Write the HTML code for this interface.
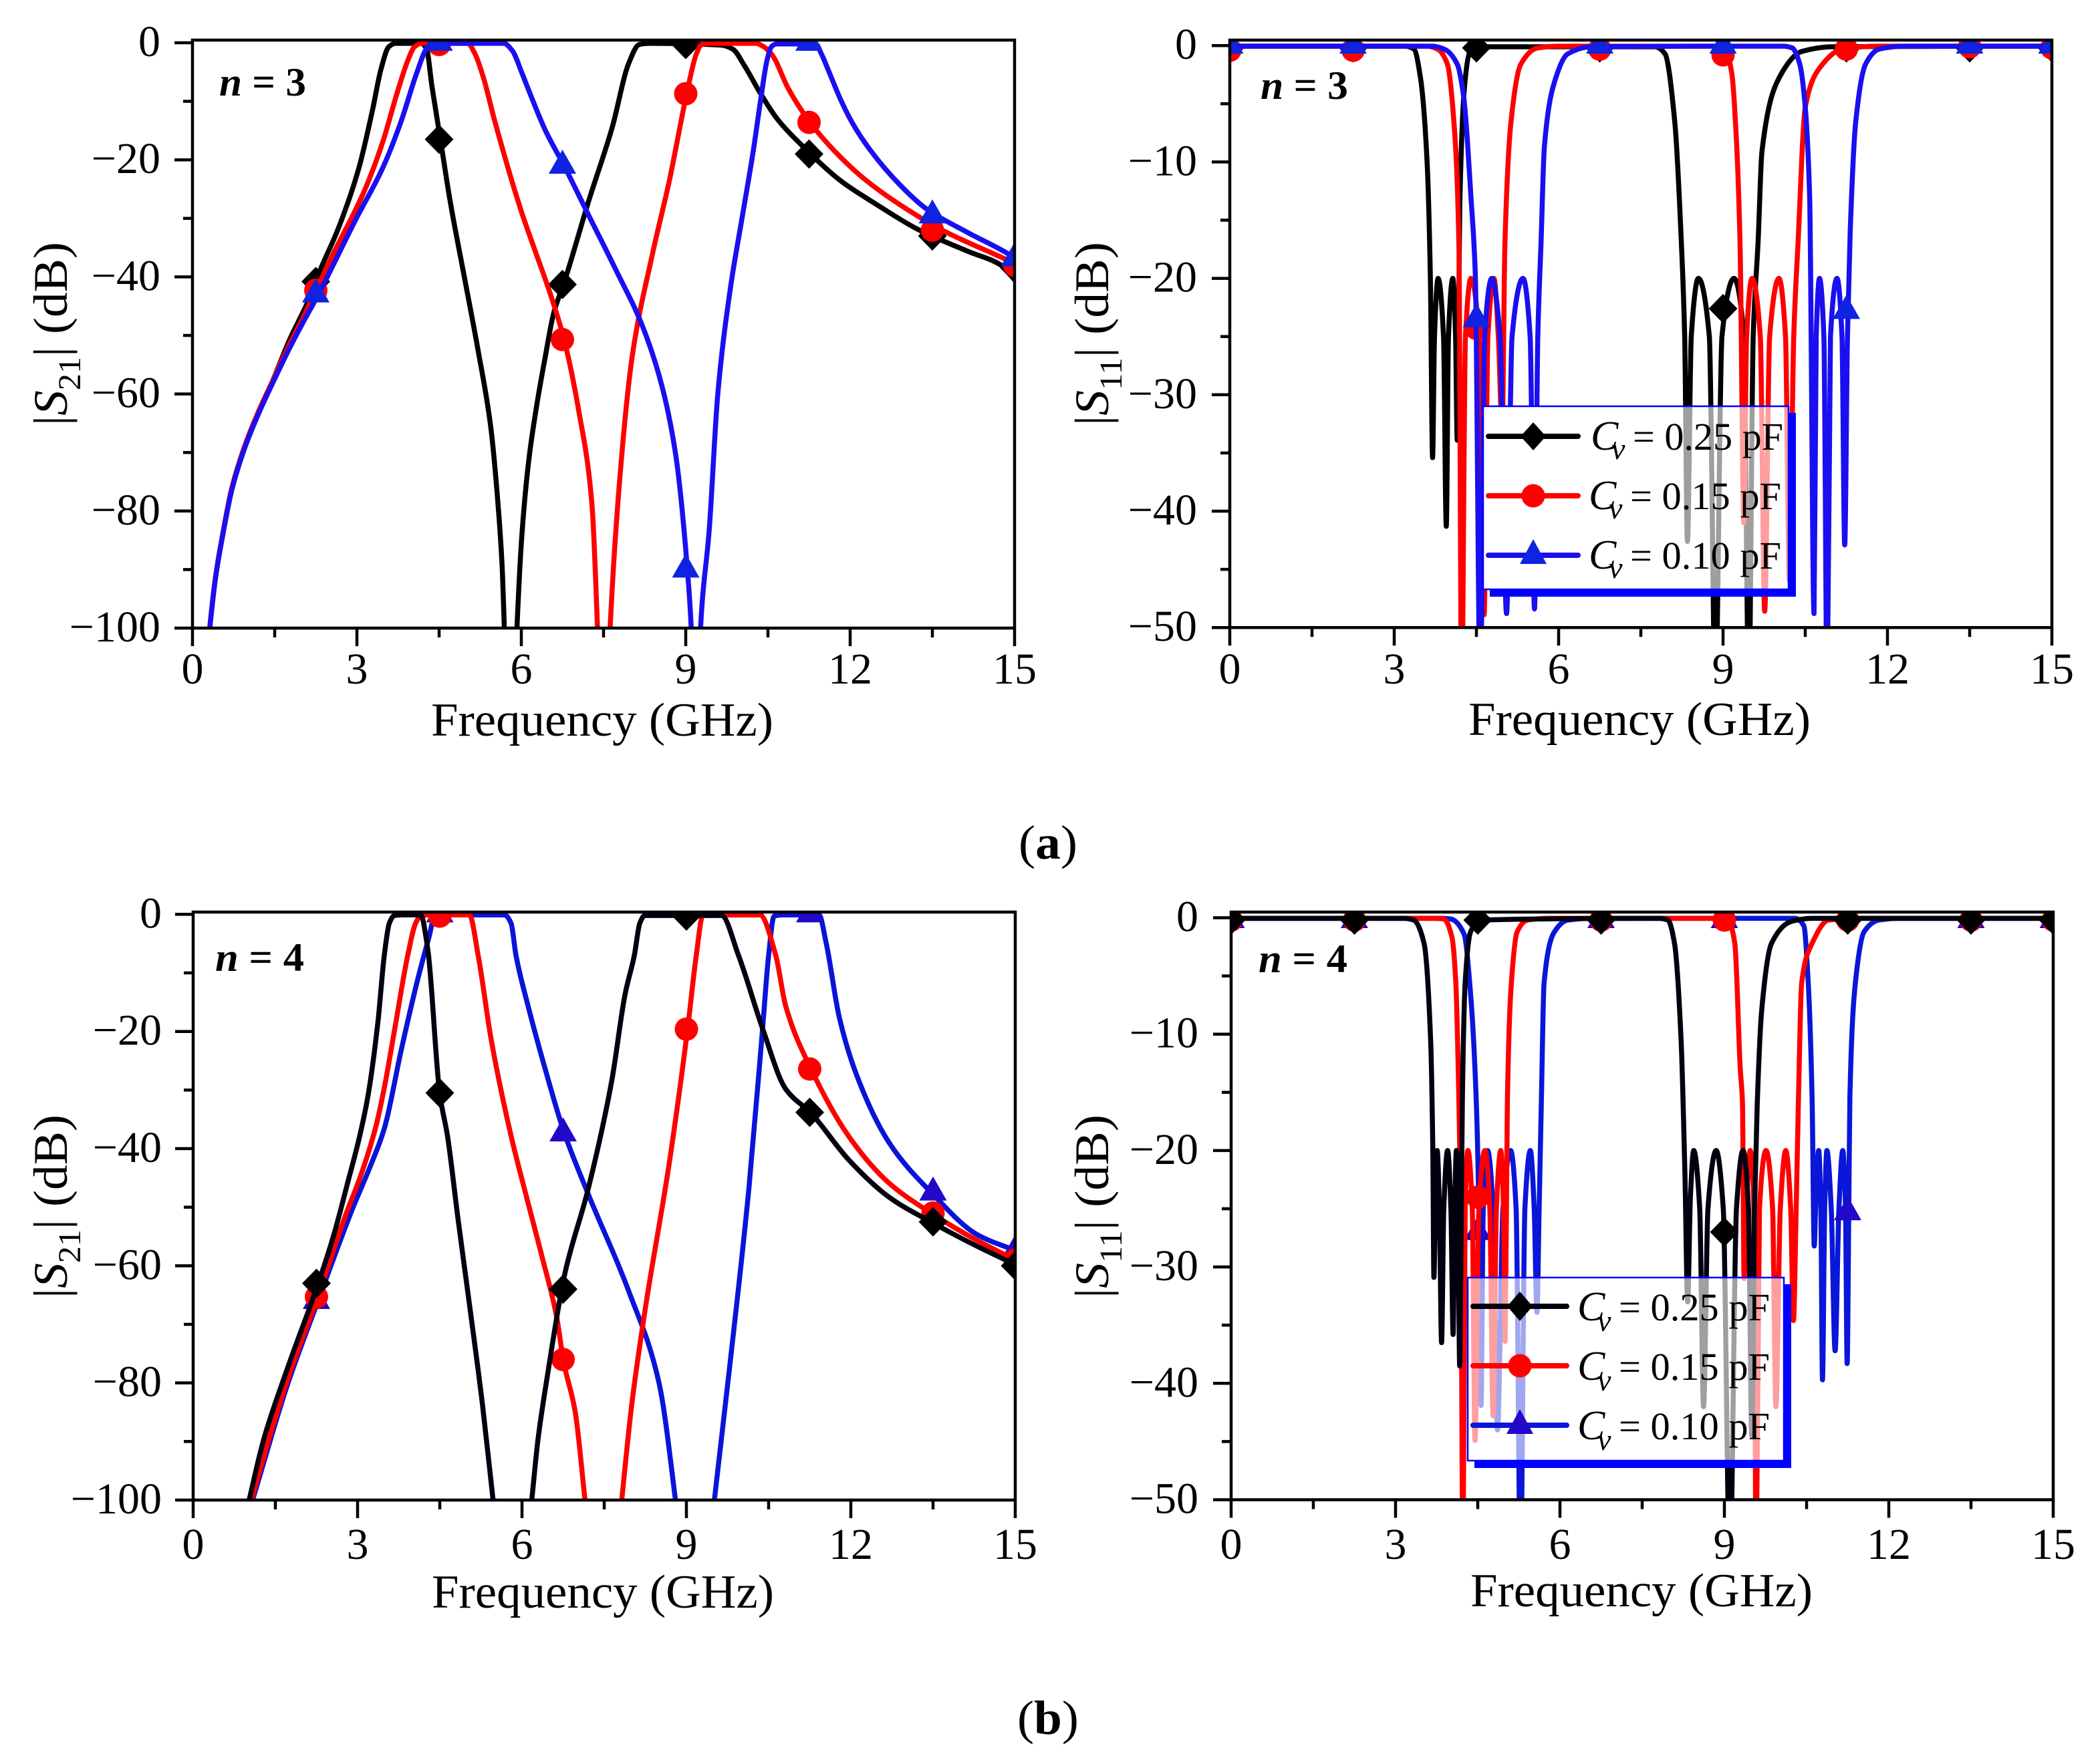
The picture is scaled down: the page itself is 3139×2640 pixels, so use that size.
<!DOCTYPE html>
<html lang="en">
<head>
<meta charset="utf-8">
<title>S-parameter responses for n = 3 and n = 4</title>
<style>
html,body{margin:0;padding:0;background:#fff;}
svg{display:block;}
text{font-family:"Liberation Serif","DejaVu Serif",serif;fill:#000;}
</style>
</head>
<body>
<svg id="figure" xmlns="http://www.w3.org/2000/svg" width="3139" height="2640" viewBox="0 0 3139 2640">
<rect x="0" y="0" width="3139" height="2640" fill="#fff"/>
<defs>
<clipPath id="clip-tl"><rect x="288" y="60" width="1230" height="880"/></clipPath>
<clipPath id="clip-tr"><rect x="1840" y="60" width="1230" height="880"/></clipPath>
<clipPath id="clip-bl"><rect x="289" y="1365" width="1230" height="880"/></clipPath>
<clipPath id="clip-br"><rect x="1842" y="1365" width="1230" height="880"/></clipPath>
</defs>

<g id="panel-tl">
  <g id="marks-tl" clip-path="url(#clip-tl)"></g>
  <g id="axes-tl"></g>
  <text x="328" y="143" font-size="60" font-weight="bold" textLength="130" lengthAdjust="spacingAndGlyphs"><tspan font-style="italic">n</tspan> = 3</text>
  <text x="645" y="1101" font-size="71" textLength="512" lengthAdjust="spacingAndGlyphs">Frequency (GHz)</text>
  <text transform="translate(100,637) rotate(-90)" font-size="72" textLength="275" lengthAdjust="spacingAndGlyphs">|<tspan font-style="italic">S</tspan><tspan font-size="48" dy="20">21</tspan><tspan dy="-20">| (dB)</tspan></text>
</g>

<g id="panel-tr">
  <g id="marks-tr" clip-path="url(#clip-tr)"></g>
  <g id="axes-tr"></g>
  <text x="1886" y="148" font-size="60" font-weight="bold" textLength="131" lengthAdjust="spacingAndGlyphs"><tspan font-style="italic">n</tspan> = 3</text>
  <text x="2197" y="1100" font-size="71" textLength="512" lengthAdjust="spacingAndGlyphs">Frequency (GHz)</text>
  <text transform="translate(1658,637) rotate(-90)" font-size="72" textLength="275" lengthAdjust="spacingAndGlyphs">|<tspan font-style="italic">S</tspan><tspan font-size="48" dy="20">11</tspan><tspan dy="-20">| (dB)</tspan></text>
  <g>
    <rect x="2676" y="618" width="11" height="275" fill="#0000ff"/>
    <rect x="2229" y="881" width="458" height="12" fill="#0000ff"/>
    <rect x="2219" y="608" width="216" height="274" fill="#fff"/>
    <rect x="2435" y="608" width="241" height="274" fill="#fff" fill-opacity="0.62"/>
    <rect x="2219" y="608" width="457" height="274" fill="none" stroke="#0000ff" stroke-width="2.5"/>
    <g>
      <line x1="2227" y1="653" x2="2361" y2="653" stroke="#000" stroke-width="8" stroke-linecap="round"/>
      <polygon points="2294,632 2313,653 2294,674 2275,653" fill="#000"/>
      <text x="2380" y="673" font-size="62" font-style="italic">C</text>
      <text x="2411" y="687" font-size="46" font-style="italic">v</text>
      <text x="2443" y="673" font-size="58" textLength="225" lengthAdjust="spacingAndGlyphs">= 0.25 pF</text>
    </g>
    <g>
      <line x1="2227" y1="742" x2="2361" y2="742" stroke="#ff0000" stroke-width="8" stroke-linecap="round"/>
      <circle cx="2294" cy="742" r="17.5" fill="#ff0000"/>
      <text x="2377" y="762" font-size="62" font-style="italic">C</text>
      <text x="2407" y="776" font-size="46" font-style="italic">v</text>
      <text x="2439" y="762" font-size="58" textLength="226" lengthAdjust="spacingAndGlyphs">= 0.15 pF</text>
    </g>
    <g>
      <line x1="2227" y1="831" x2="2361" y2="831" stroke="#1a0ff0" stroke-width="8" stroke-linecap="round"/>
      <polygon points="2294,807 2314,844 2274,844" fill="#0f23e0"/>
      <text x="2377" y="851" font-size="62" font-style="italic">C</text>
      <text x="2407" y="865" font-size="46" font-style="italic">v</text>
      <text x="2439" y="851" font-size="58" textLength="226" lengthAdjust="spacingAndGlyphs">= 0.10 pF</text>
    </g>
  </g>
</g>

<text x="1524" y="1285" font-size="72" textLength="88" lengthAdjust="spacingAndGlyphs">(<tspan font-weight="bold">a</tspan>)</text>

<g id="panel-bl">
  <g id="marks-bl" clip-path="url(#clip-bl)"></g>
  <g id="axes-bl"></g>
  <text x="322" y="1453" font-size="60" font-weight="bold" textLength="133" lengthAdjust="spacingAndGlyphs"><tspan font-style="italic">n</tspan> = 4</text>
  <text x="646" y="2406" font-size="71" textLength="512" lengthAdjust="spacingAndGlyphs">Frequency (GHz)</text>
  <text transform="translate(100,1943) rotate(-90)" font-size="72" textLength="275" lengthAdjust="spacingAndGlyphs">|<tspan font-style="italic">S</tspan><tspan font-size="48" dy="20">21</tspan><tspan dy="-20">| (dB)</tspan></text>
</g>

<g id="panel-br">
  <g id="marks-br" clip-path="url(#clip-br)"></g>
  <g id="axes-br"></g>
  <text x="1883" y="1455" font-size="60" font-weight="bold" textLength="133" lengthAdjust="spacingAndGlyphs"><tspan font-style="italic">n</tspan> = 4</text>
  <text x="2200" y="2404" font-size="71" textLength="512" lengthAdjust="spacingAndGlyphs">Frequency (GHz)</text>
  <text transform="translate(1658,1943) rotate(-90)" font-size="72" textLength="275" lengthAdjust="spacingAndGlyphs">|<tspan font-style="italic">S</tspan><tspan font-size="48" dy="20">11</tspan><tspan dy="-20">| (dB)</tspan></text>
  <g>
    <rect x="2669" y="1922" width="11" height="275" fill="#0000ff"/>
    <rect x="2206" y="2186" width="474" height="11" fill="#0000ff"/>
    <rect x="2196" y="1912" width="473" height="274" fill="#fff" fill-opacity="0.62"/>
    <rect x="2196" y="1912" width="473" height="274" fill="none" stroke="#0000ff" stroke-width="2.5"/>
    <g>
      <line x1="2204" y1="1955" x2="2344" y2="1955" stroke="#02000f" stroke-width="8" stroke-linecap="round"/>
      <polygon points="2274,1933 2293,1955 2274,1977 2255,1955" fill="#000"/>
      <text x="2360" y="1976" font-size="62" font-style="italic">C</text>
      <text x="2390" y="1992" font-size="46" font-style="italic">v</text>
      <text x="2422" y="1976" font-size="58" textLength="226" lengthAdjust="spacingAndGlyphs">= 0.25 pF</text>
    </g>
    <g>
      <line x1="2204" y1="2044" x2="2344" y2="2044" stroke="#ff0000" stroke-width="8" stroke-linecap="round"/>
      <circle cx="2274" cy="2044" r="17.5" fill="#ff0000"/>
      <text x="2360" y="2065" font-size="62" font-style="italic">C</text>
      <text x="2390" y="2081" font-size="46" font-style="italic">v</text>
      <text x="2422" y="2065" font-size="58" textLength="226" lengthAdjust="spacingAndGlyphs">= 0.15 pF</text>
    </g>
    <g>
      <line x1="2204" y1="2133" x2="2344" y2="2133" stroke="#0a16d8" stroke-width="8" stroke-linecap="round"/>
      <polygon points="2274,2109 2294,2146 2254,2146" fill="#2208c8"/>
      <text x="2360" y="2154" font-size="62" font-style="italic">C</text>
      <text x="2390" y="2170" font-size="46" font-style="italic">v</text>
      <text x="2422" y="2154" font-size="58" textLength="226" lengthAdjust="spacingAndGlyphs">= 0.10 pF</text>
    </g>
  </g>
</g>

<text x="1522" y="2595" font-size="72" textLength="92" lengthAdjust="spacingAndGlyphs">(<tspan font-weight="bold">b</tspan>)</text>
</svg>

<script>
// ---- axis ticks ----
const xTickValues = [0, 3, 6, 9, 12, 15];
const xTickLabels = ['0', '3', '6', '9', '12', '15'];
const xMinorValues = [1.5, 4.5, 7.5, 10.5, 13.5];
const s21TickValues = [0, -20, -40, -60, -80, -100];
const s21TickLabels = ['0', '\u221220', '\u221240', '\u221260', '\u221280', '\u2212100'];
const s21MinorValues = [-10, -30, -50, -70, -90];
const s11TickValues = [0, -10, -20, -30, -40, -50];
const s11TickLabels = ['0', '\u221210', '\u221220', '\u221230', '\u221240', '\u221250'];
const s11MinorValues = [-5, -15, -25, -35, -45];

// ---- marker frequencies shared by all series (GHz) ----
const markerFreqs = [0, 2.25, 4.5, 6.75, 9, 11.25, 13.5, 15];

// ---- |S21| n = 3 ----
const s21n3BlackFreq = [0.2,0.315,0.42,0.546,0.714,0.945,1.218,1.47,1.764,2.14,2.3,2.67,3.03,3.28,3.44,3.58,3.7,4.17,4.27,4.37,4.52,4.7,4.96,5.21,5.44,5.565,5.65,5.69,5.8,5.92,6.0,6.13,6.28,6.43,6.59,6.78,7.23,7.66,7.96,8.15,8.33,9.65,9.86,10.07,10.36,10.66,11.16,11.83,12.46,13.26,14.14,14.77,15];
const s21n3BlackDb = [-112,-100,-91.4,-84.4,-76.5,-69.4,-63,-57.6,-50.9,-43.5,-39.5,-31.5,-21.6,-11.7,-4.5,-0.7,-0.1,-0.1,-1,-7.5,-16.3,-27,-40,-52.5,-65.5,-77.7,-89.5,-100,-130,-100,-85.5,-71.8,-62,-54,-46.2,-41,-27,-14.4,-3.5,-0.3,-0.1,-0.4,-1.1,-3.9,-8.6,-12.9,-17.9,-23.6,-27.5,-32,-35.6,-38.1,-40.5];
const s21n3BlackMarkers = [-130,-40.8,-16.5,-41.3,-0.3,-19,-33,-38.5];
const s21n3RedFreq = [0.2,0.315,0.42,0.546,0.714,0.945,1.218,1.47,1.764,2.016,2.25,2.55,3.15,3.48,3.72,3.93,4.05,4.17,5.02,5.15,5.31,5.51,6.0,6.25,6.55,6.78,7.05,7.29,7.39,7.5,7.62,7.78,8.02,8.39,8.7,9.02,9.19,9.29,9.4,10.28,10.41,10.57,10.87,11.16,11.41,11.83,12.25,12.88,13.72,14.77,15];
const s21n3RedDb = [-112,-100,-91.3,-84.2,-76.2,-69.1,-62.7,-57.6,-51.6,-47,-42.3,-36.4,-25,-16.7,-9,-3,-0.7,-0.1,-0.1,-1.8,-6,-13.2,-28.8,-35.5,-43.5,-50.7,-63,-79,-100,-130,-100,-76.4,-53.8,-36.2,-23.6,-8.6,-2,-0.3,-0.1,-0.1,-0.6,-2,-7.8,-12.2,-15.3,-19.6,-23.2,-27.5,-32.2,-36.7,-37.7];
const s21n3RedMarkers = [-130,-42.3,-0.3,-50.7,-8.7,-13.6,-32,-38];
const s21n3BlueFreq = [0.2,0.315,0.42,0.546,0.714,0.945,1.218,1.47,1.764,2.016,2.268,2.99,3.48,3.8,4.09,4.27,4.37,5.68,5.84,6.0,6.13,6.44,6.78,7.23,7.72,8.21,8.57,8.82,9.03,9.1,9.18,9.27,9.43,9.585,9.82,10.03,10.24,10.36,10.49,10.57,10.66,11.37,11.48,11.62,11.83,12.04,12.34,12.88,13.38,14.14,14.89,15];
const s21n3BlueDb = [-112,-100,-91.4,-84.4,-76.5,-69.4,-63.1,-58,-52.3,-47.8,-43.5,-30,-21.2,-13.6,-5.2,-1,-0.1,-0.1,-1.4,-4.9,-8,-15,-21,-29.5,-38.7,-48.4,-58.8,-70.6,-90,-100,-130,-100,-83,-60,-41.6,-29.8,-18,-10.2,-2.7,-0.6,-0.2,-0.2,-2,-5.1,-9.8,-13.7,-18,-24,-28.3,-32.4,-36.1,-36.8];
const s21n3BlueMarkers = [-130,-43,0,-21,-90,0,-29.5,-36.8];

// ---- |S11| n = 3 ----
const s11n3BlackFreq = [0,3.2,3.36,3.48,3.6,3.66,3.70,3.735,3.80,3.9,3.95,3.99,4.07,4.12,4.15,4.2,4.28,4.37,4.52,7.76,7.94,8.12,8.24,8.3,8.35,8.42,8.55,8.75,8.86,8.98,9.2,9.38,9.47,9.55,9.64,9.71,10.02,10.44,11,15];
const s11n3BlackDb = [-0.05,-0.05,-0.3,-2.8,-10,-20,-35.4,-25,-20,-25,-41.3,-25,-20,-25,-33.9,-13,-3.7,-0.7,-0.1,-0.1,-0.7,-6.6,-17,-25,-42.6,-25,-20,-25,-56,-25,-20,-25,-56,-25,-16.8,-9.1,-2.8,-0.5,-0.1,-0.05];
const s11n3BlackMarkers = [-0.2,-0.2,-0.2,-0.2,-22.6,-0.2,-0.2,-0.2];
const s11n3RedFreq = [0,3.6,3.79,3.97,4.09,4.18,4.23,4.3,4.40,4.55,4.64,4.71,4.82,4.9,4.97,5.02,5.13,5.31,5.62,6,8.9,9.04,9.16,9.25,9.31,9.38,9.43,9.53,9.68,9.76,9.85,10.02,10.14,10.21,10.29,10.37,10.5,10.75,11.18,11.85,15];
const s11n3RedDb = [-0.05,-0.05,-0.3,-1.6,-6.6,-17,-56,-25,-20,-25,-48.9,-25,-20,-25,-33,-17,-6.6,-1.6,-0.2,-0.05,-0.05,-0.3,-2.4,-8.7,-17,-41,-25,-20,-25,-48.6,-25,-20,-25,-46,-25,-16.8,-5.3,-2,-0.3,-0.05,-0.05];
const s11n3RedMarkers = [-0.4,-0.4,-24.3,-0.3,-0.8,-0.3,-0.1,-0.2];
const s11n3BlueFreq = [0,3.7,3.91,4.15,4.27,4.4,4.48,4.57,4.65,4.78,4.93,5.05,5.15,5.35,5.48,5.56,5.62,5.68,5.74,5.92,6.17,6.6,10.1,10.26,10.4,10.5,10.58,10.66,10.7,10.76,10.84,10.9,10.96,11.08,11.17,11.22,11.27,11.32,11.42,11.6,11.85,12.3,15];
const s11n3BlueDb = [-0.05,-0.05,-0.3,-1.6,-4.5,-13,-19.7,-56,-25,-20,-25,-48.8,-25,-20,-25,-48.4,-25,-16.8,-8.7,-3.2,-0.7,-0.1,-0.05,-0.2,-1.6,-5.3,-13,-48.8,-25,-20,-25,-56,-25,-20,-25,-42.9,-25,-16,-6.6,-1.6,-0.3,-0.05,-0.05];
const s11n3BlueMarkers = [0,0,-23.5,0,0,-22.8,0,0];

// ---- |S21| n = 4 ----
const s21n4BlackFreq = [0.88,1.027,1.283,1.71,2.29,2.57,2.82,3.04,3.19,3.37,3.49,3.58,3.67,3.8,4.15,4.28,4.5,4.64,4.83,5.03,5.28,5.47,5.82,6.18,6.29,6.48,6.69,6.79,7.21,7.64,7.88,8.05,8.15,8.24,9.64,9.95,10.39,10.81,11.28,11.97,12.7,13.5,14.29,15];
const s21n4BlackDb = [-106,-99.8,-89.8,-77.8,-62.8,-54.6,-45.8,-37.8,-31,-18.5,-6.8,-1.5,-0.2,-0.1,-0.1,-5.9,-30.7,-37.8,-51.8,-65.8,-83.8,-99.8,-130,-99.8,-89.8,-77.8,-65.8,-61,-46.8,-28.3,-13.7,-7,-1.5,-0.2,-0.2,-7,-19.5,-29.8,-34,-42,-48.3,-52.7,-56.6,-59.8];
const s21n4BlackMarkers = [-130,-63,-30.5,-64,-0.3,-33.8,-52.5,-60];
const s21n4RedFreq = [0.95,1.07,1.71,2.27,2.78,3.08,3.34,3.5,3.67,3.92,4.06,4.16,4.3,5.04,5.2,5.44,5.8,6.07,6.37,6.63,6.76,6.97,7.15,7.5,7.82,8.0,8.25,8.68,9.02,9.18,9.3,10.34,10.63,10.81,11.28,11.97,12.7,13.5,14.29,15];
const s21n4RedDb = [-104,-99.8,-79.8,-65.4,-51.4,-44,-36,-29,-20,-6.8,-1.5,-0.2,-0.1,-0.1,-7,-21.5,-37.8,-47.8,-58.6,-68.6,-76.4,-84.9,-100,-130,-100,-83.9,-67.3,-42.9,-19.7,-7,-0.2,-0.1,-7,-15.6,-26.5,-38,-45.9,-51.2,-55.6,-59];
const s21n4RedMarkers = [-130,-65.3,-0.3,-76,-19.6,-26.4,-51,-59];
const s21n4BlueFreq = [0.95,1.09,1.71,2.27,2.91,3.21,3.49,3.8,4.1,4.3,4.41,4.55,5.68,5.8,5.89,6.11,6.42,6.76,7.21,7.95,8.5,8.8,9.15,9.51,9.78,10.14,10.39,10.5,10.6,10.75,11.42,11.55,11.79,12.1,12.7,13.5,14.29,15];
const s21n4BlueDb = [-104,-99.8,-80.6,-66.2,-50.2,-43.5,-36.5,-23,-11,-4,-0.3,-0.1,-0.1,-1.5,-7,-15.6,-26.3,-37,-47.8,-64.4,-80,-100,-130,-100,-78,-46.8,-19.5,-7,-0.3,-0.1,-0.1,-4.9,-17.6,-27.3,-39,-47.8,-54.6,-57.4];
const s21n4BlueMarkers = [-130,-66,0,-37.4,-130,0,-47.5,-57.4];

// ---- |S11| n = 4 ----
const s11n4BlackFreq = [0,3.15,3.33,3.52,3.64,3.68,3.70,3.73,3.76,3.8,3.84,3.88,3.95,4.01,4.05,4.08,4.11,4.14,4.17,4.2,4.22,4.27,4.37,4.55,7.8,7.97,8.09,8.21,8.28,8.33,8.38,8.44,8.55,8.62,8.7,8.85,8.98,9.1,9.22,9.34,9.44,9.5,9.55,9.6,9.68,9.86,10.23,10.6,15];
const s11n4BlackDb = [-0.05,-0.05,-0.2,-2.2,-10.5,-20,-30.9,-24,-20,-25,-36.5,-25,-20,-25,-35.8,-25,-20,-25,-38.5,-25,-15.4,-5.6,-1.2,-0.2,-0.05,-0.2,-2.2,-10.5,-22,-33,-24,-20,-25,-42,-25,-20,-25,-56,-25,-20,-25,-44.5,-25,-15.9,-8,-2.2,-0.3,-0.05,-0.05];
const s11n4BlackMarkers = [-0.2,-0.2,-0.2,-0.2,-27,-0.2,-0.2,-0.2];
const s11n4RedFreq = [0,3.7,3.88,4.03,4.1,4.15,4.19,4.23,4.27,4.32,4.4,4.45,4.52,4.63,4.72,4.78,4.84,4.92,4.97,5.0,5.04,5.1,5.22,5.41,5.8,8.9,9.07,9.19,9.29,9.33,9.36,9.4,9.47,9.54,9.58,9.64,9.76,9.88,9.94,10.02,10.12,10.21,10.26,10.31,10.35,10.41,10.6,10.9,11.4,15];
const s11n4RedDb = [-0.05,-0.05,-0.1,-1.7,-5.6,-14.4,-25,-56,-25,-20,-25,-44.9,-25,-20,-25,-42.8,-25,-20,-25,-36.4,-15.9,-6.6,-1.2,-0.2,-0.05,-0.05,-0.2,-2.2,-13,-15.9,-31,-25,-20,-25,-56,-25,-20,-25,-42,-25,-20,-25,-34.6,-25,-15.9,-5.6,-2.2,-0.2,-0.05,-0.05];
const s11n4RedMarkers = [-0.2,-0.2,-24,-0.2,-0.2,-0.2,-0.2,-0.2];
const s11n4BlueFreq = [0,3.8,4.0,4.25,4.37,4.47,4.52,4.56,4.6,4.68,4.78,4.86,4.96,5.1,5.2,5.28,5.36,5.46,5.53,5.58,5.62,5.66,5.71,5.9,6.14,6.6,10.29,10.45,10.53,10.6,10.64,10.67,10.72,10.76,10.79,10.83,10.87,10.95,11.02,11.09,11.16,11.21,11.24,11.27,11.29,11.39,11.55,11.82,12.2,15];
const s11n4BlueDb = [-0.05,-0.05,-0.1,-1.4,-6.6,-15.4,-25,-41.9,-25,-20,-25,-44,-25,-20,-25,-56,-25,-20,-25,-33.9,-25,-15.9,-5.6,-1.2,-0.2,-0.05,-0.05,-0.7,-5.6,-15.4,-28.2,-24,-20,-25,-39.7,-25,-20,-25,-37.2,-25,-20,-25,-38.3,-25,-15.4,-5.6,-1.2,-0.2,-0.05,-0.05];
const s11n4BlueMarkers = [-0.2,-0.2,-27,-0.2,-0.2,-25.3,-0.2,-0.2];

// ---- drawing ----
const SVG_NS = 'http://www.w3.org/2000/svg';

function makeScales(x0, x15, y0, yPerDb) {
  return {
    x: function (f) { return x0 + f * (x15 - x0) / 15; },
    y: function (db) { return y0 - db * yPerDb; }
  };
}

// monotone cubic path through pixel points
function monotonePath(px, py) {
  const n = Math.min(px.length, py.length);
  const slopes = [];
  for (let i = 0; i < n - 1; i++) {
    slopes.push((py[i + 1] - py[i]) / (px[i + 1] - px[i]));
  }
  const tang = [slopes[0]];
  for (let i = 1; i < n - 1; i++) {
    if (slopes[i - 1] * slopes[i] <= 0) {
      tang.push(0);
    } else {
      const h0 = px[i] - px[i - 1];
      const h1 = px[i + 1] - px[i];
      const w = (h0 + 2 * h1) / (3 * (h0 + h1));
      tang.push(slopes[i - 1] * slopes[i] / (w * slopes[i] + (1 - w) * slopes[i - 1]));
    }
  }
  tang.push(slopes[n - 2]);
  let d = 'M' + px[0].toFixed(2) + ' ' + py[0].toFixed(2);
  for (let i = 0; i < n - 1; i++) {
    const h = (px[i + 1] - px[i]) / 3;
    d += 'C' + (px[i] + h).toFixed(2) + ' ' + (py[i] + tang[i] * h).toFixed(2) + ' ' +
      (px[i + 1] - h).toFixed(2) + ' ' + (py[i + 1] - tang[i + 1] * h).toFixed(2) + ' ' +
      px[i + 1].toFixed(2) + ' ' + py[i + 1].toFixed(2);
  }
  return d;
}

function drawMarker(group, kind, cx, cy, color, seriesName) {
  let el;
  if (kind === 'diamond') {
    el = document.createElementNS(SVG_NS, 'polygon');
    el.setAttribute('points', cx + ',' + (cy - 22) + ' ' + (cx + 21.5) + ',' + cy + ' ' + cx + ',' + (cy + 22) + ' ' + (cx - 21.5) + ',' + cy);
  } else if (kind === 'circle') {
    el = document.createElementNS(SVG_NS, 'ellipse');
    el.setAttribute('cx', cx);
    el.setAttribute('cy', cy);
    el.setAttribute('rx', 17.5);
    el.setAttribute('ry', 17.5);
  } else {
    el = document.createElementNS(SVG_NS, 'polygon');
    el.setAttribute('points', cx + ',' + (cy - 24) + ' ' + (cx + 20.5) + ',' + (cy + 12) + ' ' + (cx - 20.5) + ',' + (cy + 12));
  }
  el.setAttribute('fill', color);
  
  
  group.appendChild(el);
}

function drawSeries(group, scale, freq, db, markers, color, markerColor, kind, seriesName) {
  const n = Math.min(freq.length, db.length);
  const px = [];
  const py = [];
  for (let i = 0; i < n; i++) {
    px.push(scale.x(freq[i]));
    py.push(scale.y(db[i]));
  }
  const path = document.createElementNS(SVG_NS, 'path');
  path.setAttribute('d', monotonePath(px, py));
  path.setAttribute('fill', 'none');
  path.setAttribute('stroke', color);
  path.setAttribute('stroke-width', 7.5);
  path.setAttribute('stroke-linejoin', 'round');
  path.setAttribute('stroke-linecap', 'round');
  
  
  group.appendChild(path);
  for (let i = 0; i < markers.length; i++) {
    drawMarker(group, kind, scale.x(markerFreqs[i]), scale.y(markers[i]), markerColor, seriesName);
  }
}

function drawTick(group, x1, y1, x2, y2, width, name) {
  const tick = document.createElementNS(SVG_NS, 'line');
  tick.setAttribute('x1', x1);
  tick.setAttribute('y1', y1);
  tick.setAttribute('x2', x2);
  tick.setAttribute('y2', y2);
  tick.setAttribute('stroke', '#000');
  tick.setAttribute('stroke-width', width);
  
  
  group.appendChild(tick);
}

function drawTickLabel(group, x, y, label, anchor, name) {
  const t = document.createElementNS(SVG_NS, 'text');
  t.setAttribute('x', x);
  t.setAttribute('y', y);
  t.setAttribute('font-size', 66);
  t.setAttribute('text-anchor', anchor);
  
  
  t.textContent = label;
  group.appendChild(t);
}

function drawAxes(group, scale, opts) {
  const bottom = scale.y(opts.yMin);
  const left = scale.x(0);
  const right = scale.x(15);
  const frame = document.createElementNS(SVG_NS, 'rect');
  frame.setAttribute('x', left);
  frame.setAttribute('y', opts.top);
  frame.setAttribute('width', right - left);
  frame.setAttribute('height', bottom - opts.top);
  frame.setAttribute('fill', 'none');
  frame.setAttribute('stroke', '#000');
  frame.setAttribute('stroke-width', 4.5);
  
  
  group.appendChild(frame);

  xTickValues.forEach(function (v, i) {
    drawTick(group, scale.x(v), bottom, scale.x(v), bottom + 27, 4.5, 'x-major-tick');
    drawTickLabel(group, scale.x(v), opts.xLabelY, xTickLabels[i], 'middle', 'x-tick-label');
  });
  xMinorValues.forEach(function (v) {
    drawTick(group, scale.x(v), bottom, scale.x(v), bottom + 14, 4.5, 'x-minor-tick');
  });
  opts.yTicks.forEach(function (v, i) {
    drawTick(group, left - 27, scale.y(v), left, scale.y(v), 4.5, 'y-major-tick');
    drawTickLabel(group, opts.yLabelRight, scale.y(v) + 20, opts.yLabels[i], 'end', 'y-tick-label');
  });
  opts.yMinor.forEach(function (v) {
    drawTick(group, left - 14, scale.y(v), left, scale.y(v), 4.5, 'y-minor-tick');
  });
}

// top-left: |S21| n = 3
const scaleTL = makeScales(288, 1518, 64, 8.76);
const marksTL = document.getElementById('marks-tl');
drawSeries(marksTL, scaleTL, s21n3BlackFreq, s21n3BlackDb, s21n3BlackMarkers, '#000000', '#000000', 'diamond', 's21-n3-cv025');
drawSeries(marksTL, scaleTL, s21n3RedFreq, s21n3RedDb, s21n3RedMarkers, '#ff0000', '#ff0000', 'circle', 's21-n3-cv015');
drawSeries(marksTL, scaleTL, s21n3BlueFreq, s21n3BlueDb, s21n3BlueMarkers, '#1a0ff0', '#0f23e0', 'triangle', 's21-n3-cv010');
drawAxes(document.getElementById('axes-tl'), scaleTL, { top: 60, yMin: -100, yTicks: s21TickValues, yLabels: s21TickLabels, yMinor: s21MinorValues, xLabelY: 1023, yLabelRight: 240 });

// top-right: |S11| n = 3
const scaleTR = makeScales(1840, 3070, 68.2, 17.42);
const marksTR = document.getElementById('marks-tr');
drawSeries(marksTR, scaleTR, s11n3BlackFreq, s11n3BlackDb, s11n3BlackMarkers, '#000000', '#000000', 'diamond', 's11-n3-cv025');
drawSeries(marksTR, scaleTR, s11n3RedFreq, s11n3RedDb, s11n3RedMarkers, '#ff0000', '#ff0000', 'circle', 's11-n3-cv015');
drawSeries(marksTR, scaleTR, s11n3BlueFreq, s11n3BlueDb, s11n3BlueMarkers, '#1a0ff0', '#0f23e0', 'triangle', 's11-n3-cv010');
drawAxes(document.getElementById('axes-tr'), scaleTR, { top: 60, yMin: -50, yTicks: s11TickValues, yLabels: s11TickLabels, yMinor: s11MinorValues, xLabelY: 1023, yLabelRight: 1791 });

// bottom-left: |S21| n = 4
const scaleBL = makeScales(289, 1519, 1368.4, 8.766);
const marksBL = document.getElementById('marks-bl');
drawSeries(marksBL, scaleBL, s21n4BlueFreq, s21n4BlueDb, s21n4BlueMarkers, '#0a14d8', '#2208c8', 'triangle', 's21-n4-cv010');
drawSeries(marksBL, scaleBL, s21n4RedFreq, s21n4RedDb, s21n4RedMarkers, '#ff0000', '#ff0000', 'circle', 's21-n4-cv015');
drawSeries(marksBL, scaleBL, s21n4BlackFreq, s21n4BlackDb, s21n4BlackMarkers, '#02000f', '#000000', 'diamond', 's21-n4-cv025');
drawAxes(document.getElementById('axes-bl'), scaleBL, { top: 1365, yMin: -100, yTicks: s21TickValues, yLabels: s21TickLabels, yMinor: s21MinorValues, xLabelY: 2333, yLabelRight: 242 });

// bottom-right: |S11| n = 4
const scaleBR = makeScales(1842, 3072, 1373.5, 17.42);
const marksBR = document.getElementById('marks-br');
drawSeries(marksBR, scaleBR, s11n4BlueFreq, s11n4BlueDb, s11n4BlueMarkers, '#0a16d8', '#2208c8', 'triangle', 's11-n4-cv010');
drawSeries(marksBR, scaleBR, s11n4RedFreq, s11n4RedDb, s11n4RedMarkers, '#ff0000', '#ff0000', 'circle', 's11-n4-cv015');
drawSeries(marksBR, scaleBR, s11n4BlackFreq, s11n4BlackDb, s11n4BlackMarkers, '#02000f', '#000000', 'diamond', 's11-n4-cv025');
drawAxes(document.getElementById('axes-br'), scaleBR, { top: 1365, yMin: -50, yTicks: s11TickValues, yLabels: s11TickLabels, yMinor: s11MinorValues, xLabelY: 2333, yLabelRight: 1793 });
</script>
</body>
</html>
